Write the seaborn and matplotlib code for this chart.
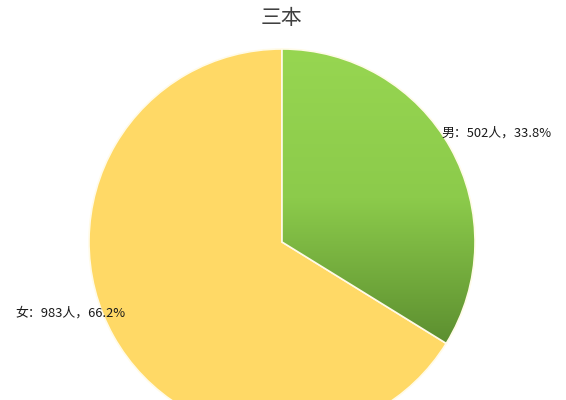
import matplotlib
matplotlib.use("Agg")
import matplotlib.pyplot as plt
import seaborn as sns
import numpy as np

# Data
categories = ["男", "女"]
counts = [502, 983]
percents = [33.8, 66.2]

sns.set_style("white")
plt.rcParams['font.family'] = ['Noto Sans CJK SC', 'DejaVu Sans']

fig = plt.figure(figsize=(5.66, 4), dpi=100)
ax = fig.add_axes([0, 0, 1, 1])

# pixel-like coordinates (y up), pie centre and radius
cx, cy, r = 282, 400 - 242, 193
colors = ["#8fcf4c", "#ffd966"]

wedges, _ = ax.pie(counts, colors=colors, startangle=90, counterclock=False,
                   center=(cx, cy), radius=r,
                   wedgeprops=dict(edgecolor="#fffbe8", linewidth=1.2))

# green slice has a vertical gradient: light at top, darker at bottom
grad = np.linspace(0, 1, 256).reshape(-1, 1)
cmap = matplotlib.colors.LinearSegmentedColormap.from_list(
    "g", ["#97d651", "#8ccb4b", "#5b8d2f"])
img = ax.imshow(grad, cmap=cmap, aspect="auto", origin="upper",
                extent=(cx, cx + r, cy - r * 0.55, cy + r), zorder=1.5)
img.set_clip_path(wedges[0])
wedges[0].set_zorder(2)
wedges[0].set_facecolor("none")

ax.set_xlim(0, 566)
ax.set_ylim(0, 400)
ax.set_aspect("equal")
ax.axis("off")

ax.text(282, 400 - 18, "三本", ha="center", va="center", fontsize=15, color="#404040")

label_pos = [(441, 400 - 133), (15, 400 - 313)]
for cat, n, p, (x, y) in zip(categories, counts, percents, label_pos):
    ax.text(x, y, f"{cat}：{n}人，{p}%", ha="left", va="center",
            fontsize=9.3, color="#1a1a1a", fontweight="medium", zorder=5)

fig.savefig("out.png", dpi=100)
